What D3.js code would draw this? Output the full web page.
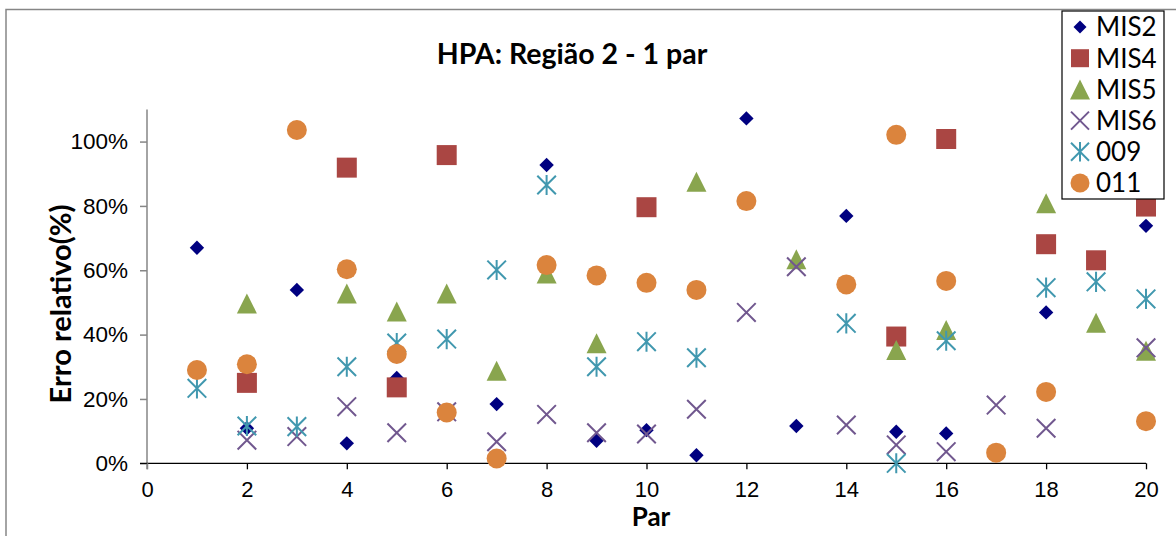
<!DOCTYPE html>
<html>
<head>
<meta charset="utf-8">
<script src="https://cdn.jsdelivr.net/npm/d3@7"></script>
<style>
  html, body { margin: 0; padding: 0; background: #fff; }
  svg { display: block; }
</style>
</head>
<body>
<svg id="chart" width="1176" height="536"></svg>
<script>
// Pair index (Par) on the x axis
const pares = d3.range(1, 21);

// Relative error per pair, one array per series (null = no value)
const mis2 = [0.670, 0.109, 0.539, 0.062, 0.265, null, 0.184, 0.927, 0.070, 0.103, 0.025, 1.072, 0.116, 0.769, 0.098, 0.093, null, 0.469, null, 0.738];
const mis4 = [null, 0.250, null, 0.919, 0.236, 0.958, null, null, null, 0.796, null, null, null, null, 0.394, 1.008, null, 0.681, 0.631, 0.798];
const mis5 = [null, 0.497, null, 0.528, 0.472, 0.528, 0.288, 0.590, 0.373, null, 0.875, null, 0.634, null, 0.352, 0.414, null, 0.808, 0.437, 0.350];
const mis6 = [null, 0.072, 0.083, 0.176, 0.095, 0.160, 0.067, 0.152, 0.095, 0.091, 0.168, 0.469, 0.611, 0.119, 0.057, 0.036, 0.181, 0.109, null, 0.359];
const s009 = [0.233, 0.116, 0.114, 0.300, 0.374, 0.386, 0.601, 0.865, 0.300, 0.378, 0.328, null, null, 0.435, 0.000, 0.381, null, 0.546, 0.564, 0.511];
const s011 = [0.290, 0.308, 1.036, 0.603, 0.340, 0.158, 0.015, 0.616, 0.584, 0.561, 0.539, 0.815, null, 0.556, 1.021, 0.567, 0.033, 0.222, null, 0.131];

const seriesNames = ["MIS2", "MIS4", "MIS5", "MIS6", "009", "011"];
const seriesValues = [mis2, mis4, mis5, mis6, s009, s011];
const seriesColors = ["#000080", "#AA4643", "#89A54E", "#71588F", "#4198AF", "#DB843D"];

const xTicks = d3.range(0, 21, 2);
const yTicks = [0, 0.2, 0.4, 0.6, 0.8, 1.0];

const titleText = "HPA: Região 2 - 1 par";
const xTitle = "Par";
const yTitle = "Erro relativo(%)";

// Marker shapes, size = half-extent squared
const half = s => Math.sqrt(s);
const shapeDiamond = { draw(c, s) { const r = half(s); c.moveTo(0, -r); c.lineTo(r, 0); c.lineTo(0, r); c.lineTo(-r, 0); c.closePath(); } };
const shapeSquare = { draw(c, s) { const r = half(s); c.rect(-r, -r, 2 * r, 2 * r); } };
const shapeTriangle = { draw(c, s) { const r = half(s); c.moveTo(0, -r); c.lineTo(r, r); c.lineTo(-r, r); c.closePath(); } };
const shapeX = { draw(c, s) { const r = half(s); c.moveTo(-r, -r); c.lineTo(r, r); c.moveTo(r, -r); c.lineTo(-r, r); } };
const shapeStar = { draw(c, s) { const r = half(s); c.moveTo(-r, -r); c.lineTo(r, r); c.moveTo(r, -r); c.lineTo(-r, r); c.moveTo(0, -r * 1.08); c.lineTo(0, r * 1.08); } };
const shapeCircle = { draw(c, s) { const r = half(s); c.moveTo(r, 0); c.arc(0, 0, r, 0, 2 * Math.PI); } };

const markerTypes = [shapeDiamond, shapeSquare, shapeTriangle, shapeX, shapeStar, shapeCircle];
const markerSizes = [7.2 * 7.2, 10 * 10, 10 * 10, 9.3 * 9.3, 9.3 * 9.3, 10 * 10];
const markerFilled = [true, true, true, false, false, true];

const svg = d3.select("#chart");

// Chart area frame
svg.append("rect")
  .attr("x", 6).attr("y", 9.5).attr("width", 1200).attr("height", 560)
  .attr("fill", "#fff").attr("stroke", "#868686").attr("stroke-width", 1.5);

const x = d3.scaleLinear().domain([0, 20]).range([147, 1146]);
const y = d3.scaleLinear().domain([0, 1.1]).range([463.3, 109.4]);

const tickFont = "'Liberation Sans', Arial, sans-serif";
const labelFont = "Lato, 'Open Sans', sans-serif";

// Y axis (grey line, outward ticks)
const yAxis = svg.append("g")
  .attr("transform", `translate(${x(0)},0)`)
  .call(d3.axisLeft(y).tickValues(yTicks).tickFormat(d3.format(".0%")).tickSize(7).tickSizeOuter(0).tickPadding(12));
yAxis.select(".domain").attr("stroke", "#868686").attr("stroke-width", 1.5)
  .attr("d", `M0,${y(1.1)}V${y(0) + 6}`);
yAxis.selectAll(".tick line").attr("stroke", "#868686").attr("stroke-width", 1.5);
yAxis.selectAll(".tick text").attr("font-family", tickFont).attr("font-size", 22.5).attr("fill", "#000");

// X axis (black line, ticks below)
const xAxis = svg.append("g")
  .attr("transform", `translate(0,${y(0)})`)
  .call(d3.axisBottom(x).tickValues(xTicks).tickFormat(d3.format("d")).tickSize(6).tickSizeOuter(0).tickPadding(12));
xAxis.select(".domain").attr("stroke", "#000").attr("stroke-width", 1.3)
  .attr("d", `M${x(0) - 7},0H${x(20)}`);
xAxis.selectAll(".tick line").attr("stroke", "#000").attr("stroke-width", 1.3);
xAxis.selectAll(".tick").filter(d => d === 0).select("line").attr("stroke", "#868686").attr("stroke-width", 1.5);
xAxis.selectAll(".tick text").attr("font-family", tickFont).attr("font-size", 22).attr("fill", "#000");

// Markers, drawn series by series
const plot = svg.append("g");
seriesValues.forEach((vals, i) => {
  const sym = d3.symbol().type(markerTypes[i]).size(markerSizes[i]);
  const pts = pares.map((p, j) => ({ p, v: vals[j] })).filter(d => d.v !== null);
  plot.append("g").selectAll("path")
    .data(pts)
    .join("path")
    .attr("transform", d => `translate(${x(d.p)},${y(d.v)})`)
    .attr("d", sym)
    .attr("fill", markerFilled[i] ? seriesColors[i] : "none")
    .attr("stroke", markerFilled[i] ? "none" : seriesColors[i])
    .attr("stroke-width", 2);
});

// Title and axis titles
svg.append("text")
  .attr("x", 572).attr("y", 64)
  .attr("text-anchor", "middle")
  .attr("font-family", labelFont).attr("font-weight", "bold").attr("font-size", 28.5)
  .text(titleText);

svg.append("text")
  .attr("x", 651).attr("y", 526)
  .attr("text-anchor", "middle")
  .attr("font-family", labelFont).attr("font-weight", "bold").attr("font-size", 26)
  .text(xTitle);

svg.append("text")
  .attr("transform", "translate(71,304) rotate(-90)")
  .attr("text-anchor", "middle")
  .attr("font-family", labelFont).attr("font-weight", "bold").attr("font-size", 29)
  .text(yTitle);

// Legend
const legend = svg.append("g");
legend.append("rect")
  .attr("x", 1062).attr("y", 11).attr("width", 102).attr("height", 188)
  .attr("fill", "#fff").attr("stroke", "#000").attr("stroke-width", 1.2);
const legendSizes = [6.5 * 6.5, 9 * 9, 10 * 10, 9 * 9, 9 * 9, 9.5 * 9.5];
seriesNames.forEach((name, i) => {
  const cy = 27 + i * 31.2;
  legend.append("path")
    .attr("transform", `translate(1080,${cy})`)
    .attr("d", d3.symbol().type(markerTypes[i]).size(legendSizes[i]))
    .attr("fill", markerFilled[i] ? seriesColors[i] : "none")
    .attr("stroke", markerFilled[i] ? "none" : seriesColors[i])
    .attr("stroke-width", 2);
  legend.append("text")
    .attr("x", 1096).attr("y", cy)
    .attr("dy", "0.36em")
    .attr("font-family", labelFont).attr("font-size", 26)
    .text(name);
});
</script>
</body>
</html>
